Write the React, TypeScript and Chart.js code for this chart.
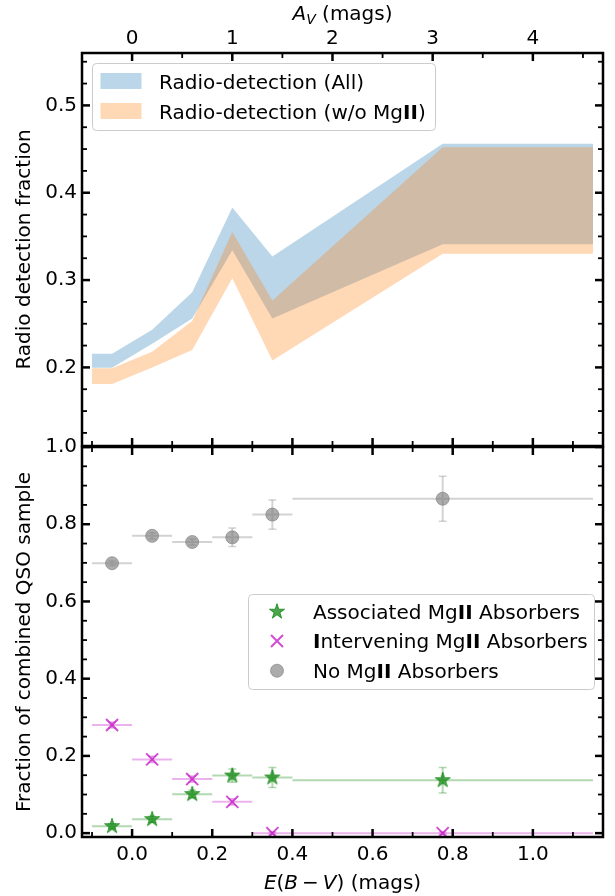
import React, { useEffect, useRef } from 'react';
import { Chart, registerables } from 'chart.js';

Chart.register(...registerables);

const FONT = "'DejaVu Sans', 'Noto Sans', sans-serif";
const FS = 20;

// ---------- axis ranges / ticks ----------
const X_MIN = -0.125;
const X_MAX = 1.175;
const AV_PER_EBV = 4.0;
const TOP_Y_MIN = 0.11;
const TOP_Y_MAX = 0.56;
const BOT_Y_MIN = -0.01;
const BOT_Y_MAX = 1.0;

const X_TICKS = [0, 0.2, 0.4, 0.6, 0.8, 1.0];
const X_MINOR = [-0.1, 0.1, 0.3, 0.5, 0.7, 0.9, 1.1];
const AV_TICKS = [0, 1, 2, 3, 4];
const AV_MINOR = [-0.5, 0.5, 1.5, 2.5, 3.5, 4.5];
const TOP_Y_TICKS = [0.2, 0.3, 0.4, 0.5];
const TOP_Y_MINOR = [0.125, 0.15, 0.175, 0.225, 0.25, 0.275, 0.325, 0.35, 0.375, 0.425, 0.45, 0.475, 0.525, 0.55];
const BOT_Y_TICKS = [0, 0.2, 0.4, 0.6, 0.8, 1.0];
const BOT_Y_MINOR = [0.05, 0.1, 0.15, 0.25, 0.3, 0.35, 0.45, 0.5, 0.55, 0.65, 0.7, 0.75, 0.85, 0.9, 0.95];

// ---------- top panel: radio-detection fraction bands ----------
const BAND_X = [-0.1, -0.05, 0.05, 0.15, 0.25, 0.35, 0.775, 1.15];
const ALL_LOW = [0.1995, 0.1995, 0.227, 0.256, 0.334, 0.256, 0.341, 0.341];
const ALL_HIGH = [0.2155, 0.2155, 0.243, 0.286, 0.383, 0.327, 0.456, 0.456];
const NOMG_LOW = [0.181, 0.181, 0.2, 0.22, 0.302, 0.208, 0.33, 0.33];
const NOMG_HIGH = [0.199, 0.199, 0.218, 0.253, 0.355, 0.2765, 0.452, 0.452];

// ---------- bottom panel: fractions ----------
const BIN_CENTERS = [-0.05, 0.05, 0.15, 0.25, 0.35, 0.775];
const BIN_HALF = [0.05, 0.05, 0.05, 0.05, 0.05, 0.375];
const ASSOC = [0.018, 0.036, 0.101, 0.149, 0.144, 0.137];
const ASSOC_ERR = [0.006, 0.008, 0.01, 0.017, 0.026, 0.033];
const INTER = [0.28, 0.191, 0.14, 0.081, 0.0, 0.0];
const INTER_ERR = [0.008, 0.008, 0.008, 0.008, 0.003, 0.003];
const NOMG = [0.699, 0.77, 0.754, 0.766, 0.825, 0.866];
const NOMG_ERR = [0.006, 0.008, 0.008, 0.024, 0.038, 0.058];

// ---------- colours ----------
const BLUE_FILL = 'rgba(31,119,180,0.3)';
const ORANGE_FILL = 'rgba(255,127,14,0.3)';
const GREEN_MK = 'rgba(0,128,0,0.7)';
const GREEN_ERR = 'rgba(0,128,0,0.3)';
const MAG_MK = 'rgba(191,0,191,0.7)';
const MAG_ERR = 'rgba(191,0,191,0.3)';
const GRAY_MK = 'rgba(128,128,128,0.65)';
const GRAY_ERR = 'rgba(128,128,128,0.35)';

type Seg = { t: string; b?: boolean; i?: boolean; s?: number; dy?: number; pad?: number };

function fontOf(sg: Seg) {
  return `${sg.i ? 'italic ' : ''}${sg.b ? 'bold ' : ''}${sg.s ?? FS}px ${FONT}`;
}

function drawSegs(ctx: CanvasRenderingContext2D, segs: Seg[], x: number, y: number, align: 'left' | 'center') {
  ctx.save();
  let total = 0;
  const widths = segs.map((sg) => {
    ctx.font = fontOf(sg);
    const w = ctx.measureText(sg.t).width + (sg.pad ?? 0);
    total += w;
    return w;
  });
  let cx = align === 'center' ? x - total / 2 : x;
  ctx.textBaseline = 'alphabetic';
  ctx.textAlign = 'left';
  ctx.fillStyle = '#000';
  segs.forEach((sg, k) => {
    ctx.font = fontOf(sg);
    ctx.fillText(sg.t, cx + (sg.pad ?? 0) / 2, y + (sg.dy ?? 0));
    cx += widths[k];
  });
  ctx.restore();
}

function starPath(ctx: CanvasRenderingContext2D, cx: number, cy: number, R: number) {
  const r = R * 0.382;
  ctx.beginPath();
  for (let k = 0; k < 10; k++) {
    const ang = -Math.PI / 2 + (k * Math.PI) / 5;
    const rad = k % 2 === 0 ? R : r;
    const px = cx + rad * Math.cos(ang);
    const py = cy + rad * Math.sin(ang);
    if (k === 0) ctx.moveTo(px, py);
    else ctx.lineTo(px, py);
  }
  ctx.closePath();
}

function drawStar(ctx: CanvasRenderingContext2D, cx: number, cy: number, R: number) {
  starPath(ctx, cx, cy, R);
  ctx.fillStyle = GREEN_MK;
  ctx.fill();
  ctx.strokeStyle = GREEN_MK;
  ctx.lineWidth = 1;
  ctx.stroke();
}

function makeStarCanvas(R: number) {
  const size = Math.ceil(2 * R + 4);
  const c = document.createElement('canvas');
  c.width = size;
  c.height = size;
  const ctx = c.getContext('2d')!;
  drawStar(ctx, size / 2, size / 2, R);
  return c;
}

function framePlugin(topScaleId: string, topMajor: number[], topMinor: number[], yMajor: number[], yMinor: number[]) {
  return {
    id: 'frameTicks',
    afterDraw(chart: any) {
      const { ctx, chartArea: a } = chart;
      const xs = chart.scales.x;
      const ts = chart.scales[topScaleId];
      const ys = chart.scales.y;
      ctx.save();
      ctx.strokeStyle = '#000';
      ctx.lineCap = 'butt';
      const seg = (x1: number, y1: number, x2: number, y2: number, lw: number) => {
        ctx.lineWidth = lw;
        ctx.beginPath();
        ctx.moveTo(x1, y1);
        ctx.lineTo(x2, y2);
        ctx.stroke();
      };
      const MAJ = 8, MIN = 5, MAJW = 2.5, MINW = 1.8;
      yMajor.forEach((v) => {
        const p = ys.getPixelForValue(v);
        seg(a.left, p, a.left + MAJ, p, MAJW);
        seg(a.right, p, a.right - MAJ, p, MAJW);
      });
      yMinor.forEach((v) => {
        const p = ys.getPixelForValue(v);
        seg(a.left, p, a.left + MIN, p, MINW);
        seg(a.right, p, a.right - MIN, p, MINW);
      });
      X_TICKS.forEach((v) => {
        const p = xs.getPixelForValue(v);
        seg(p, a.bottom, p, a.bottom - MAJ, MAJW);
      });
      X_MINOR.forEach((v) => {
        const p = xs.getPixelForValue(v);
        seg(p, a.bottom, p, a.bottom - MIN, MINW);
      });
      topMajor.forEach((v) => {
        const p = ts.getPixelForValue(v);
        seg(p, a.top, p, a.top + MAJ, MAJW);
      });
      topMinor.forEach((v) => {
        const p = ts.getPixelForValue(v);
        seg(p, a.top, p, a.top + MIN, MINW);
      });
      ctx.lineWidth = 2.5;
      ctx.strokeRect(a.left, a.top, a.right - a.left, a.bottom - a.top);
      ctx.restore();
    },
  };
}

function roundBox(ctx: CanvasRenderingContext2D, x: number, y: number, w: number, h: number, r: number) {
  ctx.beginPath();
  ctx.moveTo(x + r, y);
  ctx.lineTo(x + w - r, y);
  ctx.quadraticCurveTo(x + w, y, x + w, y + r);
  ctx.lineTo(x + w, y + h - r);
  ctx.quadraticCurveTo(x + w, y + h, x + w - r, y + h);
  ctx.lineTo(x + r, y + h);
  ctx.quadraticCurveTo(x, y + h, x, y + h - r);
  ctx.lineTo(x, y + r);
  ctx.quadraticCurveTo(x, y, x + r, y);
  ctx.closePath();
  ctx.fillStyle = 'rgba(255,255,255,0.8)';
  ctx.fill();
  ctx.strokeStyle = '#cccccc';
  ctx.lineWidth = 1;
  ctx.stroke();
}

const legendTopPlugin = {
  id: 'legendTop',
  afterDraw(chart: any) {
    const ctx = chart.ctx as CanvasRenderingContext2D;
    ctx.save();
    roundBox(ctx, 92.5, 63.5, 343, 67, 4);
    ctx.fillStyle = BLUE_FILL;
    ctx.fillRect(100.5, 73, 41, 16);
    ctx.fillStyle = ORANGE_FILL;
    ctx.fillRect(100.5, 103, 41, 16);
    drawSegs(ctx, [{ t: 'Radio-detection (All)' }], 159, 88.5, 'left');
    drawSegs(ctx, [{ t: 'Radio-detection (w/o Mg' }, { t: 'II', b: true }, { t: ')' }], 159, 118.5, 'left');
    // top axis title A_V (mags)
    const a = chart.chartArea;
    drawSegs(
      ctx,
      [{ t: 'A', i: true }, { t: 'V', i: true, s: 14, dy: 4 }, { t: ' (mags)' }],
      (a.left + a.right) / 2,
      20,
      'center'
    );
    ctx.restore();
  },
};

const legendBotPlugin = {
  id: 'legendBot',
  afterDraw(chart: any) {
    const ctx = chart.ctx as CanvasRenderingContext2D;
    ctx.save();
    roundBox(ctx, 248.5, 594.5, 346, 95, 4);
    const mx = 277;
    const rows = [611.7, 641, 670.7];
    drawStar(ctx, mx, rows[0], 8);
    ctx.strokeStyle = MAG_MK;
    ctx.lineWidth = 2;
    ctx.beginPath();
    ctx.moveTo(mx - 6, rows[1] - 6);
    ctx.lineTo(mx + 6, rows[1] + 6);
    ctx.moveTo(mx + 6, rows[1] - 6);
    ctx.lineTo(mx - 6, rows[1] + 6);
    ctx.stroke();
    ctx.beginPath();
    ctx.arc(mx, rows[2], 6.5, 0, Math.PI * 2);
    ctx.fillStyle = GRAY_MK;
    ctx.fill();
    ctx.strokeStyle = GRAY_MK;
    ctx.lineWidth = 1;
    ctx.stroke();
    drawSegs(ctx, [{ t: 'Associated Mg' }, { t: 'II', b: true }, { t: ' Absorbers' }], 313, rows[0] + 7.2, 'left');
    drawSegs(ctx, [{ t: 'I', b: true }, { t: 'ntervening Mg' }, { t: 'II', b: true }, { t: ' Absorbers' }], 313, rows[1] + 7.2, 'left');
    drawSegs(ctx, [{ t: 'No Mg' }, { t: 'II', b: true }, { t: ' Absorbers' }], 313, rows[2] + 7.2, 'left');
    const a = chart.chartArea;
    drawSegs(
      ctx,
      [
        { t: 'E', i: true },
        { t: '(' },
        { t: 'B', i: true },
        { t: '\u2212', pad: 8 },
        { t: 'V', i: true },
        { t: ')' },
        { t: ' (mags)' },
      ],
      (a.left + a.right) / 2,
      889,
      'center'
    );
    ctx.restore();
  },
};

const errorBarPlugin = {
  id: 'errorBars',
  beforeDatasetsDraw(chart: any) {
    const ctx = chart.ctx as CanvasRenderingContext2D;
    const a = chart.chartArea;
    const xs = chart.scales.x;
    const ys = chart.scales.y;
    ctx.save();
    ctx.beginPath();
    ctx.rect(a.left, a.top, a.right - a.left, a.bottom - a.top);
    ctx.clip();
    chart.data.datasets.forEach((ds: any) => {
      if (!ds.errX) return;
      ctx.strokeStyle = ds.errColor;
      ds.data.forEach((pt: any, k: number) => {
        const px = xs.getPixelForValue(pt.x);
        const py = ys.getPixelForValue(pt.y);
        const x1 = xs.getPixelForValue(pt.x - ds.errX[k]);
        const x2 = xs.getPixelForValue(pt.x + ds.errX[k]);
        const y1 = ys.getPixelForValue(pt.y - ds.errY[k]);
        const y2 = ys.getPixelForValue(pt.y + ds.errY[k]);
        ctx.lineWidth = 2;
        ctx.beginPath();
        ctx.moveTo(x1, py);
        ctx.lineTo(x2, py);
        ctx.moveTo(px, y1);
        ctx.lineTo(px, y2);
        ctx.stroke();
        ctx.lineWidth = 1.5;
        ctx.beginPath();
        ctx.moveTo(px - 4, y1);
        ctx.lineTo(px + 4, y1);
        ctx.moveTo(px - 4, y2);
        ctx.lineTo(px + 4, y2);
        ctx.stroke();
      });
    });
    ctx.restore();
  },
};

const tickFont = { family: FONT, size: FS };

export default function App() {
  const refA = useRef<HTMLCanvasElement>(null);
  const refB = useRef<HTMLCanvasElement>(null);

  useEffect(() => {
    document.body.style.margin = '0';
    const star = makeStarCanvas(8);

    const bandDs = (ys: number[], fill: any, color: string, order: number) => ({
      data: BAND_X.map((x, i) => ({ x, y: ys[i] })),
      borderWidth: 0,
      borderColor: 'rgba(0,0,0,0)',
      pointRadius: 0,
      tension: 0,
      fill,
      backgroundColor: color,
      order,
    });

    const chartA = new Chart(refA.current!, {
      type: 'line',
      data: {
        datasets: [
          bandDs(ALL_LOW, false, BLUE_FILL, 2),
          bandDs(ALL_HIGH, '-1', BLUE_FILL, 2),
          bandDs(NOMG_LOW, false, ORANGE_FILL, 1),
          bandDs(NOMG_HIGH, '-1', ORANGE_FILL, 1),
        ] as any,
      },
      options: {
        responsive: false,
        animation: false,
        events: [],
        layout: { padding: { left: 0, right: 12, top: 0, bottom: 450 } },
        plugins: { legend: { display: false }, tooltip: { enabled: false } },
        scales: {
          x: { type: 'linear', display: false, min: X_MIN, max: X_MAX },
          xAV: {
            type: 'linear',
            position: 'top',
            min: X_MIN * AV_PER_EBV,
            max: X_MAX * AV_PER_EBV,
            grid: { display: false, drawTicks: false },
            border: { display: false },
            afterBuildTicks: (s: any) => {
              s.ticks = AV_TICKS.map((v) => ({ value: v }));
            },
            afterFit: (s: any) => {
              s.height = 53;
            },
            ticks: {
              font: tickFont,
              color: '#000',
              padding: 2,
              autoSkip: false,
              maxRotation: 0,
              callback: (v: any) => String(v),
            },
          },
          y: {
            type: 'linear',
            position: 'left',
            min: TOP_Y_MIN,
            max: TOP_Y_MAX,
            grid: { display: false, drawTicks: false },
            border: { display: false },
            afterBuildTicks: (s: any) => {
              s.ticks = TOP_Y_TICKS.map((v) => ({ value: v }));
            },
            afterFit: (s: any) => {
              s.width = 82;
            },
            ticks: {
              font: tickFont,
              color: '#000',
              padding: 5,
              callback: (v: any) => Number(v).toFixed(1),
            },
            title: {
              display: true,
              text: 'Radio detection fraction',
              font: tickFont,
              color: '#000',
              padding: { top: 13, bottom: 0 },
            },
          },
        } as any,
      },
      plugins: [framePlugin('xAV', AV_TICKS, AV_MINOR, TOP_Y_TICKS, TOP_Y_MINOR), legendTopPlugin],
    } as any);

    const pts = (ys: number[]) => BIN_CENTERS.map((x, i) => ({ x, y: ys[i] }));

    const chartB = new Chart(refB.current!, {
      type: 'scatter',
      data: {
        datasets: [
          {
            label: 'No MgII Absorbers',
            data: pts(NOMG),
            pointStyle: 'circle',
            pointRadius: 6.5,
            backgroundColor: GRAY_MK,
            borderColor: GRAY_MK,
            borderWidth: 1,
            errX: BIN_HALF,
            errY: NOMG_ERR,
            errColor: GRAY_ERR,
            clip: 0,
            order: 3,
          },
          {
            label: 'Intervening MgII Absorbers',
            data: pts(INTER),
            pointStyle: 'crossRot',
            pointRadius: 8.5,
            borderColor: MAG_MK,
            backgroundColor: MAG_MK,
            borderWidth: 2,
            errX: BIN_HALF,
            errY: INTER_ERR,
            errColor: MAG_ERR,
            clip: 0,
            order: 2,
          },
          {
            label: 'Associated MgII Absorbers',
            data: pts(ASSOC),
            pointStyle: star,
            pointRadius: 8,
            errX: BIN_HALF,
            errY: ASSOC_ERR,
            errColor: GREEN_ERR,
            clip: 0,
            order: 1,
          },
        ] as any,
      },
      options: {
        responsive: false,
        animation: false,
        events: [],
        layout: { padding: { left: 0, right: 12, top: 447, bottom: 0 } },
        plugins: { legend: { display: false }, tooltip: { enabled: false } },
        scales: {
          x: {
            type: 'linear',
            position: 'bottom',
            min: X_MIN,
            max: X_MAX,
            grid: { display: false, drawTicks: false },
            border: { display: false },
            afterBuildTicks: (s: any) => {
              s.ticks = X_TICKS.map((v) => ({ value: v }));
            },
            afterFit: (s: any) => {
              s.height = 59;
            },
            ticks: {
              font: tickFont,
              color: '#000',
              padding: 6,
              autoSkip: false,
              maxRotation: 0,
              callback: (v: any) => Number(v).toFixed(1),
            },
          },
          y: {
            type: 'linear',
            position: 'left',
            min: BOT_Y_MIN,
            max: BOT_Y_MAX,
            grid: { display: false, drawTicks: false },
            border: { display: false },
            afterBuildTicks: (s: any) => {
              s.ticks = BOT_Y_TICKS.map((v) => ({ value: v }));
            },
            afterFit: (s: any) => {
              s.width = 82;
            },
            ticks: {
              font: tickFont,
              color: '#000',
              padding: 5,
              callback: (v: any) => Number(v).toFixed(1),
            },
            title: {
              display: true,
              text: 'Fraction of combined QSO sample',
              font: tickFont,
              color: '#000',
              padding: { top: 13, bottom: 0 },
            },
          },
        } as any,
      },
      plugins: [errorBarPlugin, framePlugin('x', X_TICKS, X_MINOR, BOT_Y_TICKS, BOT_Y_MINOR), legendBotPlugin],
    } as any);

    return () => {
      chartA.destroy();
      chartB.destroy();
    };
  }, []);

  return (
    <div style={{ position: 'relative', width: 615, height: 896, background: '#fff', overflow: 'hidden' }}>
      <canvas ref={refA} width={615} height={896} style={{ position: 'absolute', left: 0, top: 0 }} />
      <canvas ref={refB} width={615} height={896} style={{ position: 'absolute', left: 0, top: 0 }} />
    </div>
  );
}
